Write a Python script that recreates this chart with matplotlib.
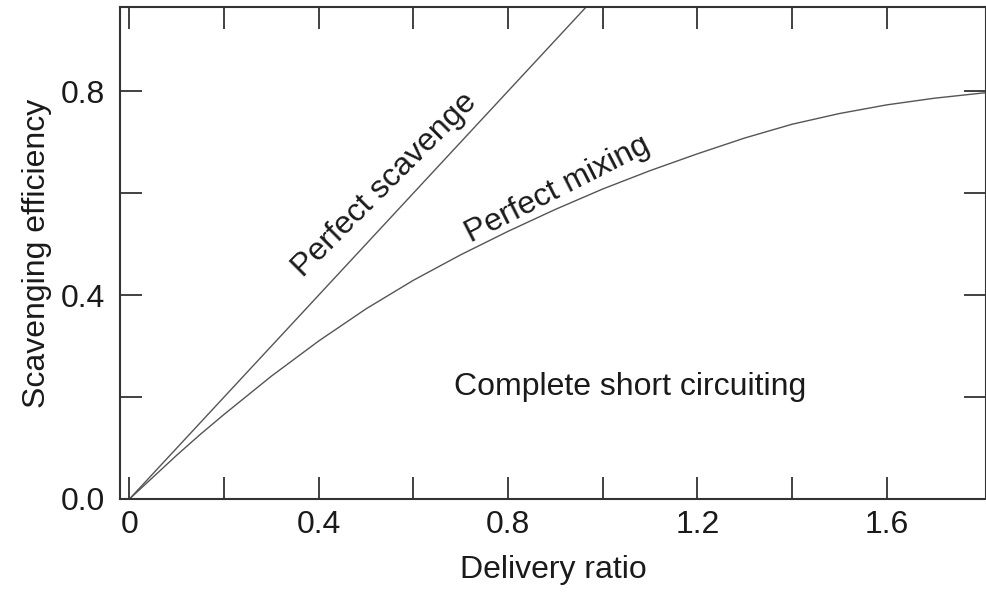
import matplotlib
matplotlib.use("Agg")
import matplotlib.pyplot as plt

# Data
scavenge_x = [0.0, 1.0]
scavenge_y = [0.0, 1.0]

mixing_x = [0.0, 0.05, 0.1, 0.15, 0.2, 0.3, 0.4, 0.5, 0.6, 0.7, 0.8, 0.9, 1.0,
            1.1, 1.2, 1.3, 1.4, 1.5, 1.6, 1.7, 1.8, 1.85]
mixing_y = [0.0, 0.043, 0.086, 0.127, 0.166, 0.241, 0.310, 0.373, 0.429, 0.479,
            0.525, 0.568, 0.608, 0.644, 0.677, 0.708, 0.735, 0.756, 0.773,
            0.786, 0.796, 0.800]

x_major = [0, 0.4, 0.8, 1.2, 1.6]
x_major_labels = ["0", "0.4", "0.8", "1.2", "1.6"]
x_minor = [0.2, 0.6, 1.0, 1.4]
y_major = [0.0, 0.4, 0.8]
y_major_labels = ["0.0", "0.4", "0.8"]
y_minor = [0.2, 0.6]

plt.rcParams['font.family'] = ['Liberation Sans', 'DejaVu Sans']

fig = plt.figure(figsize=(9.86, 5.99), dpi=100)
ax = fig.add_axes([120/986, 1 - 499/599, 866/986, 492/599])

line_col = "#555555"
ax.plot(scavenge_x, scavenge_y, color=line_col, lw=1.0, clip_on=True)
ax.plot(mixing_x, mixing_y, color=line_col, lw=1.0, clip_on=True)

ax.set_xlim(-0.02, 1.81)
ax.set_ylim(0.0, 0.965)

for s in ax.spines.values():
    s.set_linewidth(1.5)
    s.set_color("#333333")

ax.set_xticks(x_major)
ax.set_xticklabels(x_major_labels)
ax.set_xticks(x_minor, minor=True)
ax.set_yticks(y_major)
ax.set_yticklabels(y_major_labels)
ax.set_yticks(y_minor, minor=True)

for which in ("major", "minor"):
    ax.tick_params(axis="both", which=which, direction="in", length=16, width=1.3,
                   color="#333333", top=True, right=True)
ax.tick_params(axis="x", which="major", labelsize=23, pad=8, labelcolor="#1a1a1a")
ax.tick_params(axis="y", which="major", labelsize=23, pad=11, labelcolor="#1a1a1a")

ax.set_xlabel("Delivery ratio", fontsize=23, labelpad=11, color="#1a1a1a")
ax.set_ylabel("Scavenging efficiency", fontsize=23, labelpad=6, color="#1a1a1a")

ax.text(0.54, 0.616, "Perfect scavenge", fontsize=23, rotation=45,
        rotation_mode="anchor", ha="center", va="center", color="#1a1a1a")
ax.text(0.905, 0.606, "Perfect mixing", fontsize=23, rotation=27,
        rotation_mode="anchor", ha="center", va="center", color="#1a1a1a")
ax.text(1.058, 0.22, "Complete short circuiting", fontsize=23,
        ha="center", va="center", color="#1a1a1a")

fig.savefig("out.png", dpi=100)
